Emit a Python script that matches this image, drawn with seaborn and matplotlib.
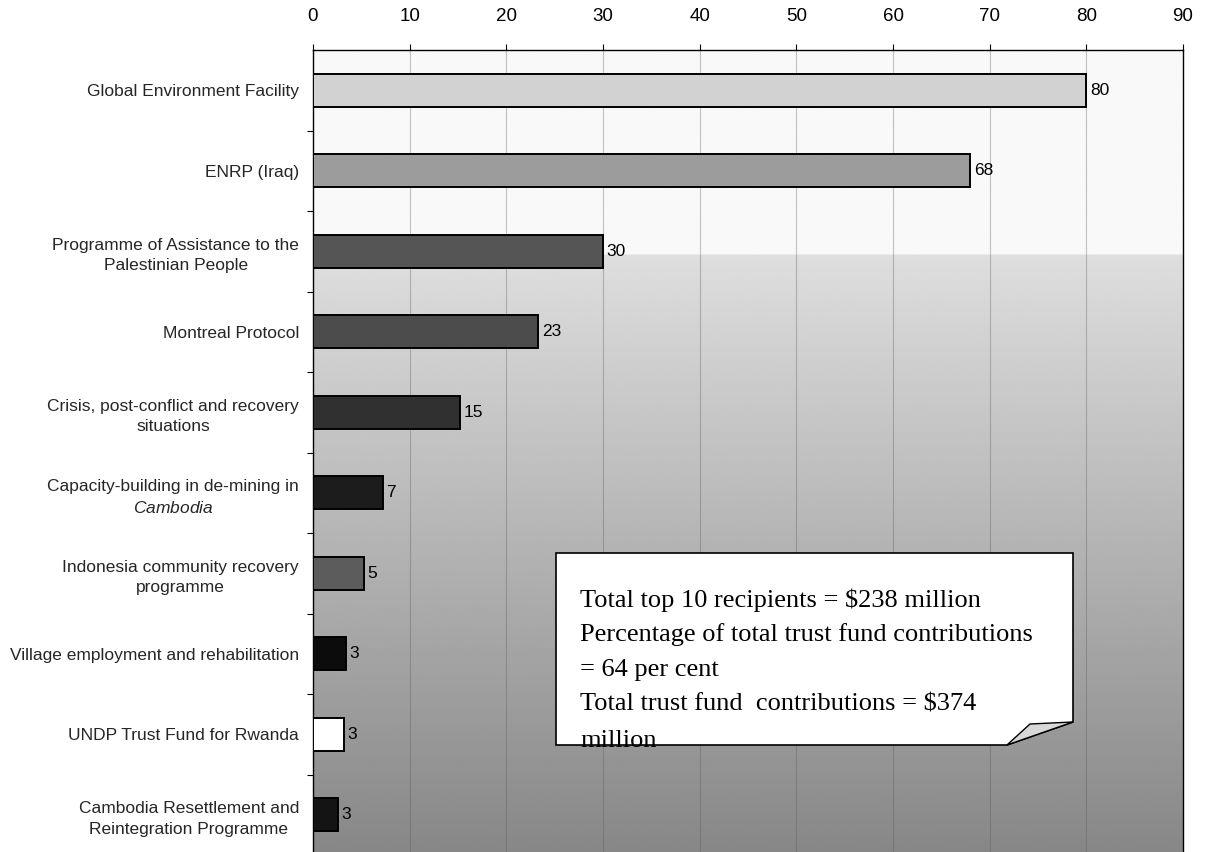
import numpy as np
import pandas as pd
import matplotlib
matplotlib.use("Agg")
import matplotlib.pyplot as plt
import seaborn as sns
from matplotlib.patches import Polygon
from matplotlib.ticker import FixedLocator

# ---- data ----
categories = [
    "Global Environment Facility",
    "ENRP (Iraq)",
    "Programme of Assistance to the\nPalestinian People",
    "Montreal Protocol",
    "Crisis, post-conflict and recovery\nsituations",
    "Capacity-building in de-mining in\n$\\it{Cambodia}$",
    "Indonesia community recovery\nprogramme",
    "Village employment and rehabilitation",
    "UNDP Trust Fund for Rwanda",
    "Cambodia Resettlement and\nReintegration Programme",
]
values = [80.0, 68.0, 30.0, 23.3, 15.2, 7.2, 5.3, 3.4, 3.2, 2.6]
value_labels = ["80", "68", "30", "23", "15", "7", "5", "3", "3", "3"]
bar_colors = ["#d2d2d2", "#9c9c9c", "#555555", "#4c4c4c", "#303030",
              "#1c1c1c", "#5c5c5c", "#0c0c0c", "#ffffff", "#141414"]
x_ticks = [0, 10, 20, 30, 40, 50, 60, 70, 80, 90]
callout_lines = [
    "Total top 10 recipients = $238 million",
    "Percentage of total trust fund contributions",
    "= 64 per cent",
    "Total trust fund  contributions = $374",
    "million",
]

df = pd.DataFrame({"category": categories, "value": values})

sns.set_theme(style="white")
plt.rcParams["font.family"] = ["Liberation Sans", "DejaVu Sans"]
plt.rcParams["mathtext.fontset"] = "custom"
plt.rcParams["mathtext.it"] = "Liberation Sans:italic"
plt.rcParams["mathtext.rm"] = "Liberation Sans"

W, H = 1208, 852
fig = plt.figure(figsize=(W / 100, H / 100), dpi=100)
fig.patch.set_facecolor("white")

ax_l, ax_r, ax_t = 313, 1183, 50
ax = fig.add_axes([ax_l / W, 0.0, (ax_r - ax_l) / W, 1 - ax_t / H])

# background gradient of the plot area (white top, greying toward bottom)
ys = np.linspace(0, 1, 400)  # 0 = top, 1 = bottom of axes
split = 205 / 802
g = np.where(ys < split, 0.975, 0.87 - (ys - split) / (1 - split) * 0.34)
grad = np.tile(g[:, None], (1, 10))
ax.imshow(grad, cmap="gray", vmin=0, vmax=1, extent=[0, 1, 0, 1],
          transform=ax.transAxes, aspect="auto", zorder=0, interpolation="bilinear")

sns.barplot(data=df, x="value", y="category", hue="category", palette=bar_colors,
            legend=False, orient="h", width=0.41, edgecolor="black", linewidth=1.4,
            ax=ax, zorder=3)

ax.set_xlim(0, 90)
ax.set_ylim(9.46, -0.5)
ax.set_xlabel("")
ax.set_ylabel("")

# vertical grid
for xv in x_ticks[1:-1]:
    ax.axvline(xv, color="#5a5a5a", lw=0.8, alpha=0.35, zorder=1)

# axis at top
ax.xaxis.tick_top()
ax.set_xticks(x_ticks)
ax.set_xticklabels([str(v) for v in x_ticks], fontsize=13.5)
ax.tick_params(axis="x", which="major", direction="out", length=4, width=0.8,
               pad=14, colors="black", top=True, bottom=False)

ax.set_yticks(range(len(categories)))
ax.set_yticklabels(categories, fontsize=12.5, ha="right", multialignment="center",
                   linespacing=1.45)
ax.tick_params(axis="y", which="major", length=0, pad=10)
ax.yaxis.set_minor_locator(FixedLocator(np.arange(0.5, 9.5, 1.0)))
ax.tick_params(axis="y", which="minor", direction="out", length=4, width=0.8,
               left=True, colors="black")

for s in ["top", "left", "right"]:
    ax.spines[s].set_visible(True)
    ax.spines[s].set_color("black")
    ax.spines[s].set_linewidth(1.0)
ax.spines["bottom"].set_visible(False)

# value labels
for i, (v, lab) in enumerate(zip(values, value_labels)):
    ax.annotate(lab, xy=(v, i), xytext=(2.5, 0), textcoords="offset points",
                va="center", ha="left", fontsize=12.5, color="black", zorder=5)

# callout box (figure pixel coords -> axes fraction)
def fx(px):
    return (px - ax_l) / (ax_r - ax_l)

def fy(py):
    return 1 - (py - ax_t) / (H - ax_t)

box_pts = [(fx(556), fy(553)), (fx(1073), fy(553)), (fx(1073), fy(722)),
           (fx(1007), fy(745)), (fx(556), fy(745))]
box = Polygon(box_pts, closed=True, facecolor="white", edgecolor="black",
              lw=1.2, transform=ax.transAxes, zorder=6)
ax.add_patch(box)
fold = Polygon([(fx(1007), fy(745)), (fx(1030), fy(724)), (fx(1073), fy(722))],
               closed=True, facecolor="#d8d8d8", edgecolor="black", lw=1.0,
               transform=ax.transAxes, zorder=6)
ax.add_patch(fold)

baselines = [607, 641.5, 676, 710.5, 747]
for line, by in zip(callout_lines, baselines):
    t = ax.text(fx(580), fy(by), line, transform=ax.transAxes, fontsize=19,
                family=["Liberation Serif", "DejaVu Serif"], va="baseline",
                ha="left", color="black", zorder=7)
    t.set_clip_path(box)

fig.savefig("out.png", dpi=100, facecolor="white")
